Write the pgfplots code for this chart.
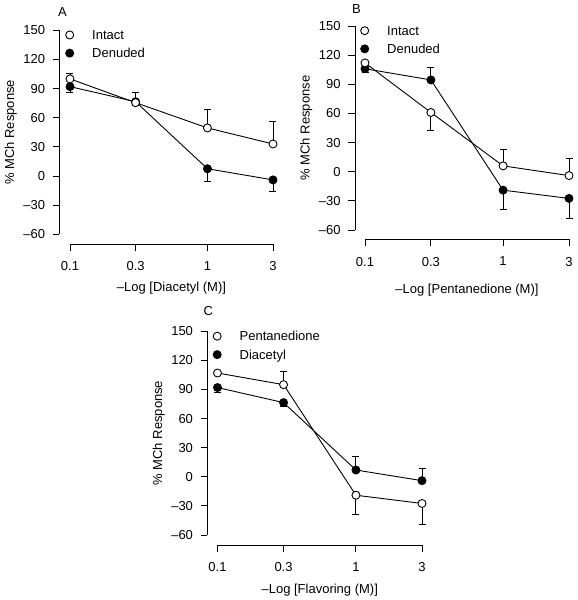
\documentclass[border=0pt]{standalone}
\usepackage{fontspec}
\setmainfont{Liberation Sans}
\usepackage{pgfplots}
\pgfplotsset{compat=1.18}
\pgfplotsset{
  panel/.style={
    scale only axis, clip=false, anchor=south west,
    xmin=0.1, xmax=3, ymin=-60, ymax=150,
    axis x line*=bottom, axis y line*=left,
    xtick pos=bottom, ytick pos=left,
    xtick={0.1,0.3,1,3}, xticklabels={0.1,0.3,1,3},
    ytick={-60,-30,0,30,60,90,120,150},
    yticklabels={–60,–30,0,30,60,90,120,150},
    xminorticks=false, yminorticks=false,
    tick align=outside, major tick length=7pt,
    tick style={black, line width=0.9pt},
    axis line style={black, line width=0.9pt},
    xticklabel style={yshift=-6pt},
    yticklabel style={xshift=-3pt},
    ylabel={\% MCh Response},
    ylabel style={yshift=-2.5pt},
    reverse legend, legend cell align=left,
    legend style={draw=none, fill=none, at={(0,1)}, anchor=north west, xshift=-4.5pt,
      inner sep=0pt, row sep=9pt, nodes={inner sep=0pt, text depth=0pt},
      /tikz/every odd column/.append style={column sep=18.5pt}},
    legend image code/.code={\draw[##1] plot coordinates {(0pt,0pt)};},
  },
  xlab/.style={xlabel style={at={(axis description cs:0.5,0)}, anchor=north, inner sep=0pt, yshift=-#1}},
  openc/.style={black, line width=0.9pt, mark=*, mark size=4pt, mark options={fill=white, solid}},
  fillc/.style={black, line width=0.9pt, mark=*, mark size=4pt, mark options={fill=black, solid}},
  ebar/.style={forget plot, draw=none, mark=none,
    error bars/y dir=#1, error bars/y explicit,
    error bars/error mark=-,
    error bars/error bar style={draw=black, line width=0.9pt},
    error bars/error mark options={draw=black, rotate=90, mark size=3.5pt, line width=0.9pt}},
}
\begin{document}
\fontsize{13}{15}\selectfont
\begin{tikzpicture}[x=1pt,y=1pt]
\path[use as bounding box] (0,0) rectangle (578,600);
% Panel A
\begin{axis}[xmode=log, panel, at={(70pt,365.7pt)}, width=203pt, height=204pt,
  axis x line shift=10pt, axis y line shift=10.5pt,
  xlabel={–Log [Diacetyl (M)]}, xlab=48pt]
\addplot[ebar=plus] coordinates {(0.1,100) +- (0,6) (0.3,75.5) +- (0,11) (1,49.5) +- (0,19.5) (3,33) +- (0,23.5)};
\addplot[ebar=minus] coordinates {(0.1,92) +- (0,6) (1,7.5) +- (0,13) (3,-4) +- (0,12)};
\addplot[fillc] coordinates {(0.1,92) (0.3,76.5) (1,7.5) (3,-4)};
\addlegendentry{Denuded}
\addplot[openc] coordinates {(0.1,100) (0.3,75.5) (1,49.5) (3,33)};
\addlegendentry{Intact}
\end{axis}
% Panel B
\begin{axis}[xmode=log, panel, at={(365pt,370pt)}, width=204pt, height=204pt,
  axis x line shift=9.5pt, axis y line shift=10pt,
  xlabel={–Log [Pentanedione (M)]}, xlab=54pt]
\addplot[ebar=plus] coordinates {(0.3,94.5) +- (0,13) (1,6) +- (0,17) (3,-4) +- (0,17.5)};
\addplot[ebar=minus] coordinates {(0.1,106) +- (0,4) (0.3,61) +- (0,19) (1,-19) +- (0,20) (3,-27.5) +- (0,21)};
\addplot[fillc] coordinates {(0.1,106) (0.3,94.5) (1,-19) (3,-27.5)};
\addlegendentry{Denuded}
\addplot[openc] coordinates {(0.1,112) (0.3,61) (1,6) (3,-4)};
\addlegendentry{Intact}
\end{axis}
% Panel C
\begin{axis}[xmode=log, panel, at={(217.5pt,65pt)}, width=204.5pt, height=203.7pt,
  axis x line shift=10pt, axis y line shift=10pt,
  xlabel={–Log [Flavoring (M)]}, xlab=49pt]
\addplot[ebar=plus] coordinates {(0.3,95) +- (0,13.5) (1,7) +- (0,14) (3,-4) +- (0,12.5)};
\addplot[ebar=minus] coordinates {(0.1,92) +- (0,5.5) (0.3,76.5) +- (0,4) (1,-19) +- (0,20) (3,-27.5) +- (0,21.5)};
\addplot[fillc] coordinates {(0.1,92) (0.3,76.5) (1,7) (3,-4)};
\addlegendentry{Diacetyl}
\addplot[openc] coordinates {(0.1,107) (0.3,95) (1,-19) (3,-27.5)};
\addlegendentry{Pentanedione}
\end{axis}
\node[anchor=base west, inner sep=0pt] at (58,583) {A};
\node[anchor=base west, inner sep=0pt] at (352,586.7) {B};
\node[anchor=base west, inner sep=0pt] at (203.5,284) {C};
\end{tikzpicture}
\end{document}
